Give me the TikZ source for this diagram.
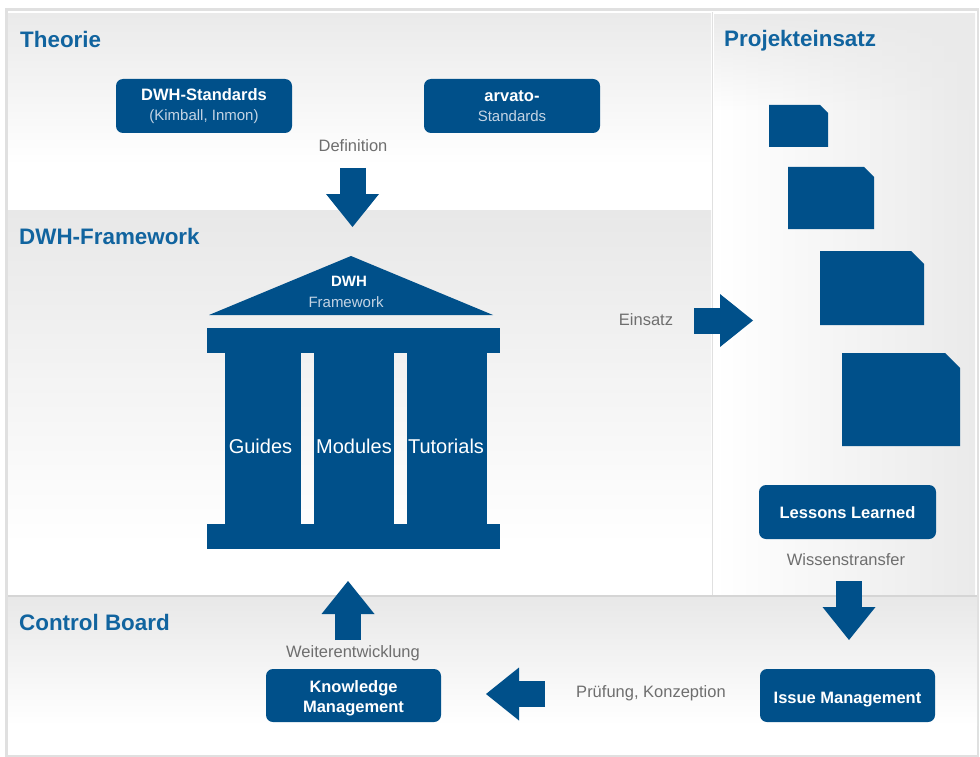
\documentclass[tikz,border=0pt]{standalone}
\usepackage{fontspec}
\setmainfont{Liberation Sans}
\usetikzlibrary{arrows.meta,fadings}
\definecolor{dwhblue}{HTML}{00508A}
\definecolor{headblue}{HTML}{11649F}
\definecolor{labelgray}{HTML}{6E6E6E}
\definecolor{subwhite}{HTML}{C4D4E4}
\definecolor{edge}{HTML}{E0E0E0}
\definecolor{panelgray}{HTML}{EAEAEA}
\definecolor{bandgray}{HTML}{E8E8E8}
\tikzset{
  x=1pt,y=-1pt,
  heading/.style={text=headblue,font=\fontsize{22.4}{24}\selectfont\bfseries,anchor=west,inner sep=0pt},
  lab/.style={text=labelgray,font=\fontsize{16.5}{19}\selectfont,inner sep=0pt},
  bluebox/.style={fill=dwhblue,rounded corners=7pt,text=white,align=center,inner sep=0pt,
    font=\fontsize{16.5}{20}\selectfont\bfseries},
  column/.style={fill=dwhblue,inner sep=0pt},
  coltext/.style={inner sep=0pt,text=white,font=\fontsize{20}{22}\selectfont},
  beam/.style={fill=dwhblue,inner sep=0pt},
  docshape/.style={fill=dwhblue},
  blockarrow/.style={draw=dwhblue,line width=26pt,line cap=butt,
    -{Triangle[length=33pt,width=53pt,line width=0pt,fill=dwhblue]}},
}
\newcommand{\subtxt}[1]{{\fontsize{15}{18}\selectfont\mdseries\color{subwhite}#1}}
\begin{document}
\begin{tikzpicture}
\useasboundingbox (0,0) rectangle (980,757);
\fill[white] (0,0) rectangle (980,757);
% outer frame
\fill[edge] (5,8) rectangle (979,757);
\fill[white] (8,11) rectangle (977,755);
% panels
\shade[top color=panelgray,bottom color=white] (8,14) rectangle (711,165);
\fill[white] (8,165) rectangle (711,209);
\shade[top color=bandgray,bottom color=white] (8,210) rectangle (711,545);
\fill[white] (8,545) rectangle (711,595);
\shade[left color=white,right color=panelgray] (714,14) rectangle (975,595);
\fill[panelgray,path fading=south] (714,14) rectangle (975,110);
\fill[edge] (711.5,12) rectangle (713,596);
\shade[top color=bandgray,bottom color=white] (8,597) rectangle (977,725);
\fill[edge!95!black] (8,595) rectangle (977,597);
% headings
\node[heading] (hTheorie) at (20,39) {Theorie};
\node[heading] (hFramework) at (19,236) {DWH-Framework};
\node[heading] (hProjekt) at (724,41) {Projekteinsatz};
\node[heading] (hBoard) at (19,622) {Control Board};
% boxes
\node[bluebox,minimum width=176pt,minimum height=54pt] (standards) at (204,106) {DWH-Standards\\\subtxt{(Kimball, Inmon)}};
\node[bluebox,minimum width=176pt,minimum height=54pt] (arvato) at (512,106) {arvato-\\\subtxt{Standards}};
\node[bluebox,minimum width=177pt,minimum height=54pt,text height=12pt,text depth=0pt] (lessons) at (847.5,512) {Lessons Learned};
\node[bluebox,minimum width=175pt,minimum height=53pt,text height=15pt,text depth=0pt] (issue) at (847.5,695.5) {Issue Management};
\node[bluebox,minimum width=175pt,minimum height=53pt] (knowledge) at (353.5,695.5) {\rule{0pt}{18pt}Knowledge\\Management};
% labels
\node[lab] (lDef) at (353,146) {Definition};
\node[lab] (lEin) at (646,320) {Einsatz};
\node[lab] (lWis) at (846,560) {Wissenstransfer};
\node[lab] (lWei) at (353,653) {Weiterentwicklung};
\node[lab] (lPru) at (651,693) {Prüfung, Konzeption};
% temple
\fill[dwhblue] (351,256) -- (493,315) -- (209,315) -- cycle;
\node[inner sep=0pt,text=white,font=\fontsize{15}{18}\selectfont\bfseries] (roofA) at (349,281) {DWH};
\node[inner sep=0pt,text=subwhite,font=\fontsize{15}{18}\selectfont] (roofB) at (346,302) {Framework};
\node[beam,minimum width=293pt,minimum height=25pt] (beamTop) at (353.5,340.5) {};
\node[beam,minimum width=293pt,minimum height=25pt] (beamBot) at (353.5,536.5) {};
\node[column,minimum width=76pt,minimum height=172pt] (cGuides) at (263,438) {};
\node[column,minimum width=80pt,minimum height=172pt] (cModules) at (354,438) {};
\node[column,minimum width=80pt,minimum height=172pt] (cTutorials) at (447,438) {};
\node[coltext] (tGuides) at (260.5,446) {Guides};
\node[coltext] (tModules) at (354,446) {Modules};
\node[coltext] (tTutorials) at (446,446) {Tutorials};
% documents
\fill[docshape] (769,105) -- (820,105) -- (828,113) -- (828,147) -- (769,147) -- cycle;
\fill[docshape] (788,167) -- (864,167) -- (874,177) -- (874,229) -- (788,229) -- cycle;
\fill[docshape] (820,251) -- (911,251) -- (924,264) -- (924,325) -- (820,325) -- cycle;
\fill[docshape] (842,353) -- (945,353) -- (960,368) -- (960,446) -- (842,446) -- cycle;
% arrows
\coordinate (aDefS) at (352.5,168);
\coordinate (aDefE) at (352.5,227);
\coordinate (aEinS) at (694,320.5);
\coordinate (aEinE) at (753,320.5);
\coordinate (aWisS) at (849,581);
\coordinate (aWisE) at (849,640);
\coordinate (aWeiS) at (348,640);
\coordinate (aWeiE) at (348,581);
\coordinate (aPruS) at (545,694);
\coordinate (aPruE) at (486,694);
\draw[blockarrow] (aDefS) -- (aDefE);
\draw[blockarrow] (aEinS) -- (aEinE);
\draw[blockarrow] (aWisS) -- (aWisE);
\draw[blockarrow] (aWeiS) -- (aWeiE);
\draw[blockarrow] (aPruS) -- (aPruE);
\end{tikzpicture}
\end{document}
